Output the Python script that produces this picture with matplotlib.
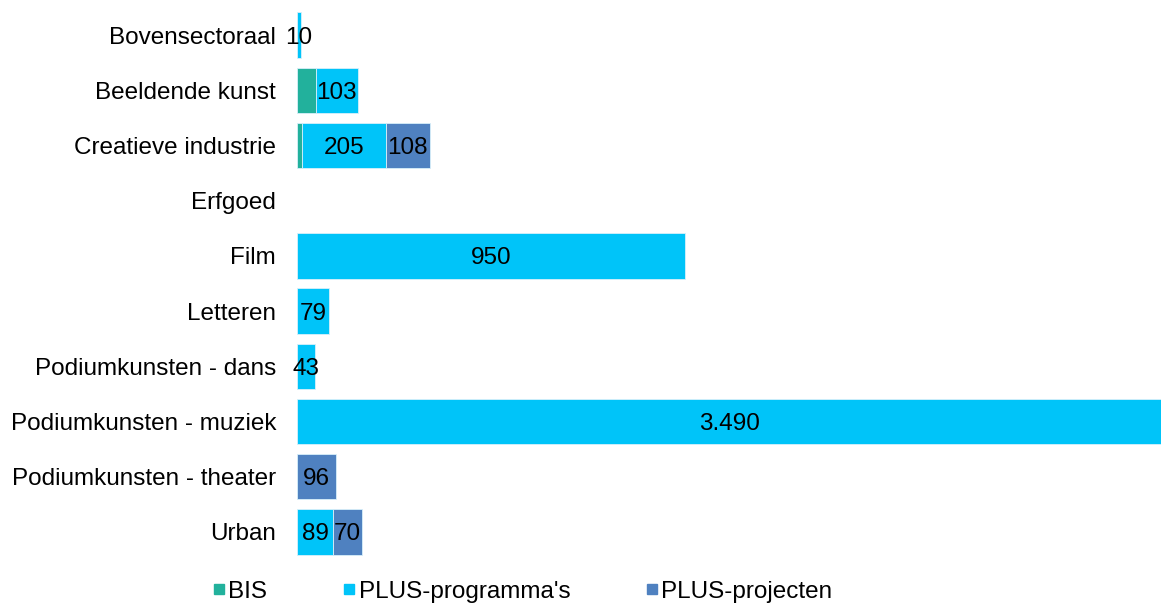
import matplotlib
matplotlib.use("Agg")
import matplotlib.pyplot as plt
from matplotlib.lines import Line2D
import numpy as np

categories = ["Bovensectoraal", "Beeldende kunst", "Creatieve industrie", "Erfgoed",
              "Film", "Letteren", "Podiumkunsten - dans", "Podiumkunsten - muziek",
              "Podiumkunsten - theater", "Urban"]
bis = [0, 46, 12, 0, 0, 0, 0, 0, 0, 0]
plus_programmas = [10, 103, 205, 0, 950, 79, 43, 3490, 0, 89]
plus_projecten = [0, 0, 108, 0, 0, 0, 0, 0, 96, 70]

series_names = ["BIS", "PLUS-programma's", "PLUS-projecten"]
colors = ["#22B19C", "#00C4F9", "#4F81C0"]
show_labels = [False, True, True]

plt.rcParams['font.family'] = ['Liberation Sans', 'DejaVu Sans']
fs = 17.5
xmax = 2115

fig = plt.figure(figsize=(11.65, 6.03), dpi=100)
ax = fig.add_axes([297 / 1165, 0.0721, 864 / 1165, 0.9876 - 0.0721])

y = np.arange(len(categories))
left = np.zeros(len(categories))
for name, vals, col, lab in zip(series_names, [bis, plus_programmas, plus_projecten], colors, show_labels):
    vals = np.array(vals, dtype=float)
    nz = vals > 0
    ax.barh(y[nz], vals[nz], left=left[nz], height=0.82, color=col,
            edgecolor="#d8f0fa", linewidth=0.6, label=name)
    if lab:
        for yi, l, v in zip(y, left, vals):
            if v <= 0:
                continue
            vis_end = min(l + v, xmax)
            xc = (l + vis_end) / 2
            txt = f"{v:,.0f}".replace(",", ".")
            ax.text(xc, yi, txt, ha="center", va="center_baseline", fontsize=fs, color="black")
    left = left + vals

ax.set_xlim(0, xmax)
ax.set_ylim(9.5, -0.5)
ax.set_yticks(y)
ax.set_yticklabels(categories, fontsize=fs)
ax.tick_params(axis="y", length=0, pad=15)
ax.set_xticks([])
for s in ax.spines.values():
    s.set_visible(False)

handles = [Line2D([], [], marker="s", linestyle="none", markersize=6.5, color=c) for c in colors]
fig.legend(handles, series_names, loc="center", bbox_to_anchor=(0.4485, 0.019), ncol=3,
           frameon=False, fontsize=fs, handlelength=0.5, handletextpad=0.15,
           columnspacing=3.1, borderpad=0)

fig.savefig("out.png", dpi=100)
